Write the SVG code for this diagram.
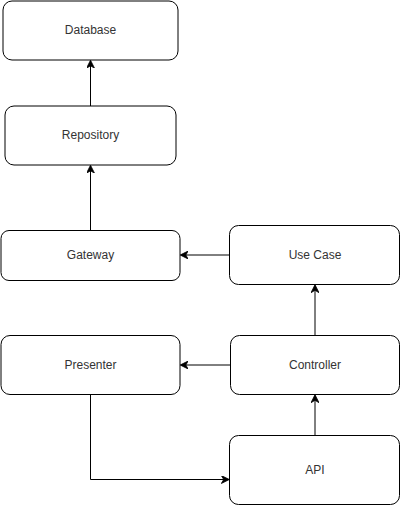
<svg xmlns="http://www.w3.org/2000/svg" width="402" height="507" viewBox="0 0 402 507">
<style>
.box{fill:#fff;stroke:#000;stroke-width:1}
.lbl{font-family:"Liberation Sans",Arial,sans-serif;font-size:12px;fill:#333;text-anchor:middle;dominant-baseline:central}
.edge{fill:none;stroke:#000;stroke-width:1}
</style>
<defs>
<marker id="arr" viewBox="0 0 10 10" refX="9" refY="5" markerWidth="8" markerHeight="8" markerUnits="userSpaceOnUse" orient="auto">
<path d="M0,0 L10,5 L0,10 L3,5 Z" fill="#000" stroke="#000"/>
</marker>
</defs>
<rect width="402" height="507" fill="#fff"/>
<g id="database"><rect class="box" x="3" y="1" width="175" height="59" rx="9"/><text class="lbl" x="90.5" y="29.5">Database</text></g>
<g id="repository"><rect class="box" x="5" y="106" width="171" height="59" rx="9"/><text class="lbl" x="90.5" y="134.5">Repository</text></g>
<g id="gateway"><rect class="box" x="1" y="230.5" width="179" height="50" rx="8"/><text class="lbl" x="90.5" y="254.5">Gateway</text></g>
<g id="usecase"><rect class="box" x="229.5" y="225.5" width="170" height="59" rx="9"/><text class="lbl" x="315" y="254.5">Use Case</text></g>
<g id="presenter"><rect class="box" x="1" y="335.5" width="179" height="59" rx="9"/><text class="lbl" x="90.5" y="364.5">Presenter</text></g>
<g id="controller"><rect class="box" x="230.5" y="335.5" width="169" height="59" rx="9"/><text class="lbl" x="315" y="364.5">Controller</text></g>
<g id="api"><rect class="box" x="229.5" y="435.5" width="170" height="69" rx="9"/><text class="lbl" x="315" y="469.5">API</text></g>
<g id="connectors">
<path class="edge" d="M90.5,106 L90.5,61" marker-end="url(#arr)"/>
<path class="edge" d="M90.5,230.5 L90.5,166" marker-end="url(#arr)"/>
<path class="edge" d="M229.5,255 L181,255" marker-end="url(#arr)"/>
<path class="edge" d="M315,335.5 L315,285.5" marker-end="url(#arr)"/>
<path class="edge" d="M230.5,365 L181,365" marker-end="url(#arr)"/>
<path class="edge" d="M315,435.5 L315,395.5" marker-end="url(#arr)"/>
<path class="edge" d="M90.5,394.5 L90.5,479.5 L228.5,479.5" marker-end="url(#arr)"/>
</g>
</svg>
